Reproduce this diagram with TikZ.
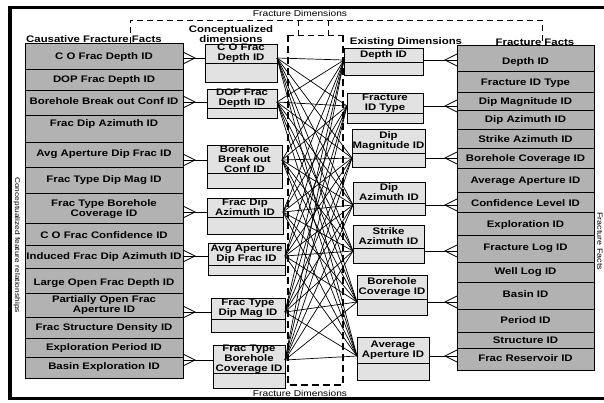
\documentclass[tikz,border=0pt]{standalone}
\usepackage{fontspec}
\setmainfont{Liberation Sans}[FakeStretch=1.2]
\definecolor{factgray}{RGB}{178,178,178}
\definecolor{dimgray}{RGB}{226,226,226}

% one row of a fact table: name, x1, x2, y1, y2, text y, text
\newcommand\factrow[7]{%
  \draw[factcell] (#2,#4) rectangle (#3,#5);
  \node[celltxt] (#1) at ({(#2+#3)/2},#6) {#7};}

% a dimension box with two compartments: name, x1, y1, x2, y2, divider y, text, link y
\newcommand\dimbox[8]{%
  \draw[dimcell] (#2,#3) rectangle (#4,#5);
  \draw[divider] (#2,#6) -- (#4,#6);
  \node[celltxt] (#1) at ({(#2+#4)/2},{(#3+#6)/2}) {#7};
  \coordinate (#1-l) at (#2,#8);
  \coordinate (#1-r) at (#4,#8);}

\begin{document}
\begin{tikzpicture}[x=1pt,y=-1pt,
  factcell/.style={draw=black,line width=0.8pt,fill=factgray},
  dimcell/.style={draw=black,line width=0.9pt,fill=dimgray},
  divider/.style={line width=0.8pt},
  celltxt/.style={font=\bfseries\fontsize{9.5}{10}\selectfont,align=center,inner sep=0pt},
  headtxt/.style={font=\bfseries\fontsize{9.5}{9.5}\selectfont,align=center,inner sep=0pt},
  plaintxt/.style={font=\fontsize{8.5}{9}\selectfont,inner sep=0pt},
  link/.style={line width=0.8pt},
  mesh/.style={line width=0.7pt},
  grpdash/.style={dash pattern=on 6pt off 4pt,line width=0.7pt},
  coredash/.style={dash pattern=on 7pt off 4pt,line width=1.7pt}]

\useasboundingbox (0,0) rectangle (604,402);
\fill[white] (0,0) rectangle (604,402);
\draw[line width=3.4pt] (10,7.5) rectangle (608,398.5);

% ---- group outlines ----
\draw[grpdash] (130,43) -- (130,20) -- (542,20) -- (542,43);
\draw[grpdash] (298,20) -- (298,35);
\draw[grpdash] (328,20) -- (328,35);
\draw[grpdash] (288,35) -- (343,35);
\draw[coredash] (288,35) -- (288,385) -- (343,385) -- (343,35);

\node[plaintxt] (topcap) at (300,13) {Fracture Dimensions};
\node[plaintxt] (botcap) at (300,393) {Fracture Dimensions};

% ---- headings ----
\node[headtxt] (hcause) at (94,39) {Causative Fracture Facts};
\node[headtxt,anchor=south] (hconc) at (231,42.5) {Conceptualized\\dimensions};
\node[headtxt] (hexist) at (406,42) {Existing Dimensions};
\node[headtxt] (hfact) at (535,42) {Fracture Facts};

\node[rotate=-90,font=\fontsize{7}{7}\selectfont,inner sep=0pt] (sidel) at (17,245) {Conceptualized feature relationships};
\node[rotate=-90,font=\fontsize{7.5}{7.5}\selectfont,inner sep=0pt] (sider) at (600,241) {Fracture Facts};

% ---- causative fracture facts ----
\factrow{cf1}{25}{183}{43}{69}{57}{C O Frac Depth ID}
\factrow{cf2}{25}{183}{69}{90}{80}{DOP Frac Depth ID}
\factrow{cf3}{25}{183}{90}{115}{101}{Borehole Break out Conf ID}
\factrow{cf4}{25}{183}{115}{142}{124}{Frac Dip Azimuth ID}
\factrow{cf5}{25}{183}{142}{167}{154}{Avg Aperture Dip Frac ID}
\factrow{cf6}{25}{183}{167}{193}{180}{Frac Type Dip Mag ID}
\factrow{cf7}{25}{183}{193}{223}{209}{Frac Type Borehole\\Coverage ID}
\factrow{cf8}{25}{183}{223}{245}{235}{C O Frac Confidence ID}
\factrow{cf9}{25}{183}{245}{268}{257}{Induced Frac Dip Azimuth ID}
\factrow{cf10}{25}{183}{268}{293}{283}{Large Open Frac Depth ID}
\factrow{cf11}{25}{183}{293}{317}{305}{Partially Open Frac\\Aperture ID}
\factrow{cf12}{25}{183}{317}{338}{328}{Frac Structure Density ID}
\factrow{cf13}{25}{183}{338}{357}{348}{Exploration Period ID}
\factrow{cf14}{25}{183}{357}{378}{367}{Basin Exploration ID}

% ---- fracture facts ----
\factrow{ff1}{457}{594}{45}{71}{62}{Depth ID}
\factrow{ff2}{457}{594}{71}{92}{83}{Fracture ID Type}
\factrow{ff3}{457}{594}{92}{110}{102}{Dip Magnitude ID}
\factrow{ff4}{457}{594}{110}{129}{120}{Dip Azimuth ID}
\factrow{ff5}{457}{594}{129}{148}{139}{Strike Azimuth ID}
\factrow{ff6}{457}{594}{148}{168}{159}{Borehole Coverage ID}
\factrow{ff7}{457}{594}{168}{192}{181}{Average Aperture ID}
\factrow{ff8}{457}{594}{192}{212}{203}{Confidence Level ID}
\factrow{ff9}{457}{594}{212}{235}{225}{Exploration ID}
\factrow{ff10}{457}{594}{235}{262}{248}{Fracture Log ID}
\factrow{ff11}{457}{594}{262}{282}{272}{Well Log ID}
\factrow{ff12}{457}{594}{282}{309}{294}{Basin ID}
\factrow{ff13}{457}{594}{309}{332}{320}{Period ID}
\factrow{ff14}{457}{594}{332}{348}{340}{Structure ID}
\factrow{ff15}{457}{594}{348}{370}{358}{Frac Reservoir ID}

% ---- conceptualized dimensions ----
\dimbox{c1}{205}{44}{277}{82}{63}{C O Frac\\Depth ID}{58}
\dimbox{c2}{207}{89}{277}{118}{108}{DOP Frac\\Depth ID}{102}
\dimbox{c3}{207}{145}{282}{188}{173}{Borehole\\Break out\\Conf ID}{160}
\dimbox{c4}{207}{198}{283}{234}{217}{Frac Dip\\Azimuth ID}{212}
\dimbox{c5}{208}{243}{285}{275}{265}{Avg Aperture\\Dip Frac ID}{256}
\dimbox{c6}{211}{298}{285}{332}{319}{Frac Type\\Dip Mag ID}{312}
\dimbox{c7}{213}{345}{285}{388}{373}{Frac Type\\Borehole\\Coverage ID}{360}

% ---- existing dimensions ----
\dimbox{e1}{344}{48}{423}{75}{62}{Depth ID}{60}
\dimbox{e2}{347}{93}{423}{123}{113}{Fracture\\ID Type}{106}
\dimbox{e3}{352}{129}{425}{167}{153}{Dip\\Magnitude ID}{158}
\dimbox{e4}{353}{182}{425}{215}{203}{Dip\\Azimuth ID}{205}
\dimbox{e5}{353}{225}{424}{263}{248}{Strike\\Azimuth ID}{251}
\dimbox{e6}{357}{275}{427}{315}{299}{Borehole\\Coverage ID}{302}
\dimbox{e7}{357}{337}{429}{380}{363}{Average\\Aperture ID}{356}

% ---- every conceptualized dimension relates to every existing one ----
\foreach \i in {1,...,7}
  \foreach \j in {1,...,7}
    \draw[mesh] (c\i-r) -- (e\j-l);

% ---- causative facts to conceptualized dimensions (many end at the facts) ----
\foreach \i/\y in {1/58,2/102,3/160,4/212,5/256,6/312,7/360} {
  \coordinate (lf\i) at (183,\y);
  \draw[link] (lf\i) -- (c\i-l);
  \draw[link] ([yshift=-6pt]lf\i) -- ([xshift=12pt]lf\i) -- ([yshift=6pt]lf\i);
}

% ---- existing dimensions to fracture facts (many end at the facts) ----
\foreach \i/\y in {1/60,2/106,3/158,4/205,5/251,6/302,7/356} {
  \coordinate (rf\i) at (457,\y);
  \draw[link] (e\i-r) -- (rf\i);
  \draw[link] ([yshift=-6pt]rf\i) -- ([xshift=-12pt]rf\i) -- ([yshift=6pt]rf\i);
}
\end{tikzpicture}
\end{document}
